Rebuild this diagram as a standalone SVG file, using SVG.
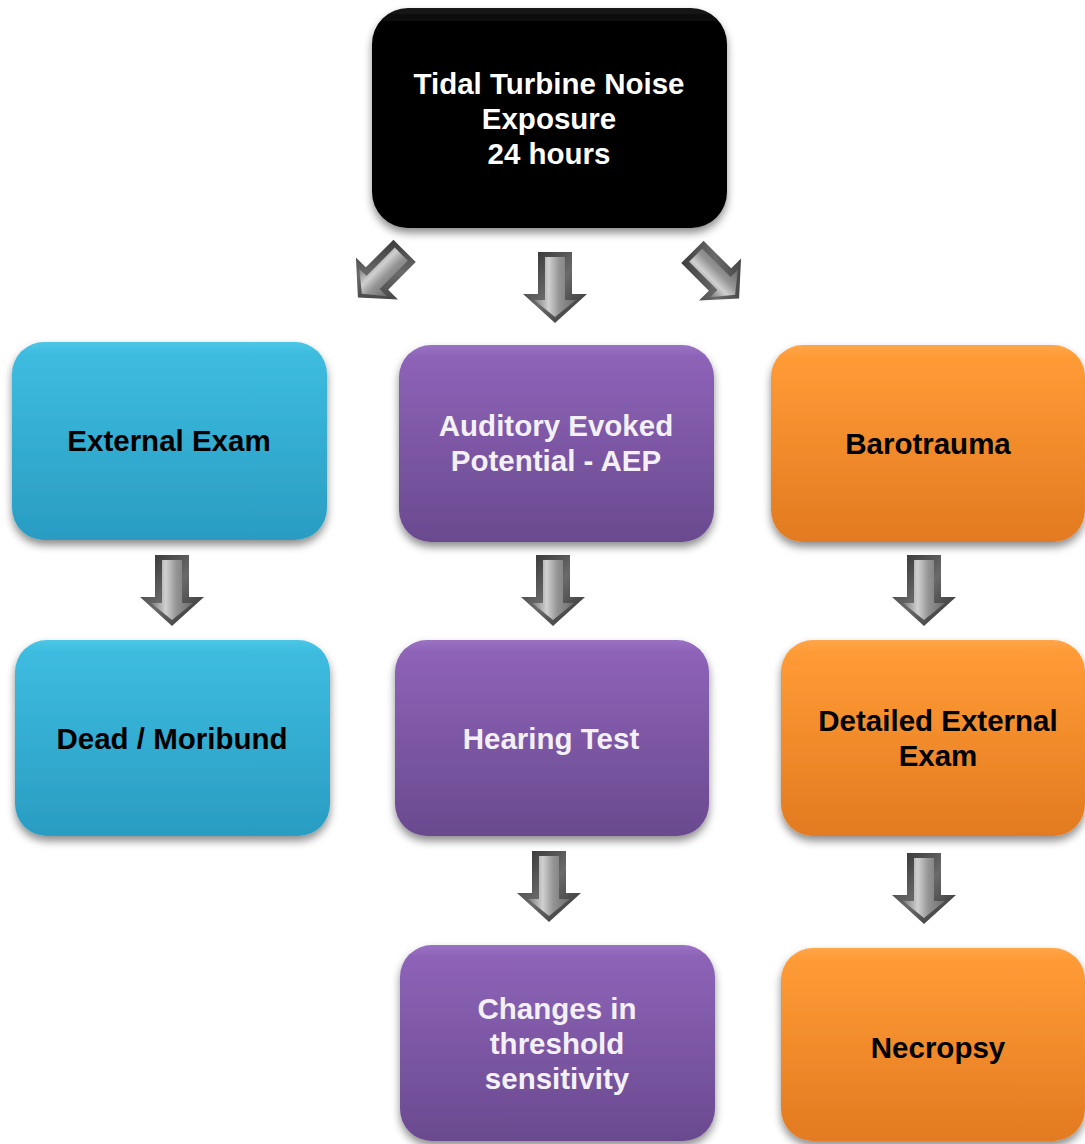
<svg xmlns="http://www.w3.org/2000/svg" width="1085" height="1144" viewBox="0 0 1085 1144">
<style>
  text { font-family: "Liberation Sans", Arial, sans-serif; font-weight: bold; font-size: 29.5px; text-anchor: middle; }
  .w { fill: #ffffff; }
  .wp { fill: #f4f0f8; }
  .k { fill: #000000; }
  .box { filter: url(#shadow); }
</style>
<defs>
  <filter id="shadow" x="-10%" y="-10%" width="120%" height="130%">
    <feDropShadow dx="0" dy="5" stdDeviation="4" flood-color="#000" flood-opacity="0.45"/>
  </filter>
  <linearGradient id="gBlack" x1="0" y1="0" x2="0" y2="1">
    <stop offset="0" stop-color="#1a1a1a"/>
    <stop offset="0.08" stop-color="#000"/>
    <stop offset="1" stop-color="#000"/>
  </linearGradient>
  <linearGradient id="gCyan" x1="0" y1="0" x2="0" y2="1">
    <stop offset="0" stop-color="#4cc6e6"/>
    <stop offset="0.06" stop-color="#3dbce0"/>
    <stop offset="1" stop-color="#2a9cc2"/>
  </linearGradient>
  <linearGradient id="gPurple" x1="0" y1="0" x2="0" y2="1">
    <stop offset="0" stop-color="#9a72c2"/>
    <stop offset="0.06" stop-color="#8d63b8"/>
    <stop offset="1" stop-color="#6a4a8f"/>
  </linearGradient>
  <linearGradient id="gOrange" x1="0" y1="0" x2="0" y2="1">
    <stop offset="0" stop-color="#ffa64a"/>
    <stop offset="0.06" stop-color="#ff9b36"/>
    <stop offset="1" stop-color="#e27a20"/>
  </linearGradient>
  <linearGradient id="aOuter" x1="0" y1="0" x2="1" y2="1">
    <stop offset="0" stop-color="#2e2e2e"/>
    <stop offset="0.5" stop-color="#6a6a6a"/>
    <stop offset="1" stop-color="#2e2e2e"/>
  </linearGradient>
  <linearGradient id="aInner" x1="0" y1="0" x2="1" y2="0">
    <stop offset="0" stop-color="#7a7a7a"/>
    <stop offset="0.35" stop-color="#d0d0d0"/>
    <stop offset="0.6" stop-color="#959595"/>
    <stop offset="1" stop-color="#6a6a6a"/>
  </linearGradient>
  <g id="arrow">
    <path d="M-17,0 L17,0 L17,42 L32,42 L0,71 L-32,42 L-17,42 Z" fill="url(#aOuter)"/>
    <path d="M-10,5 L10,5 L10,48 L21,48 L0,65 L-21,48 L-10,48 Z" fill="url(#aInner)"/>
  </g>
</defs>

<g id="connectors">
  <use href="#arrow" transform="translate(404.6,250.9) rotate(45) scale(0.93)"/>
  <use href="#arrow" transform="translate(555,252)"/>
  <use href="#arrow" transform="translate(692.4,251.9) rotate(-45) scale(0.93)"/>
  <use href="#arrow" transform="translate(172,555)"/>
  <use href="#arrow" transform="translate(553,555)"/>
  <use href="#arrow" transform="translate(924,555)"/>
  <use href="#arrow" transform="translate(549,851)"/>
  <use href="#arrow" transform="translate(924,853)"/>
</g>

<g id="node-exposure">
  <rect class="box" x="372" y="8" width="355" height="220" rx="36" fill="url(#gBlack)"/>
  <text class="w" x="549" y="94">Tidal Turbine Noise</text>
  <text class="w" x="549" y="129">Exposure</text>
  <text class="w" x="549" y="164">24 hours</text>
</g>

<g id="node-external-exam">
  <rect class="box" x="12" y="342" width="315" height="198" rx="32" fill="url(#gCyan)"/>
  <text class="k" x="169" y="451">External Exam</text>
</g>

<g id="node-aep">
  <rect class="box" x="399" y="345" width="315" height="197" rx="32" fill="url(#gPurple)"/>
  <text class="wp" x="556" y="436">Auditory Evoked</text>
  <text class="wp" x="556" y="471">Potential - AEP</text>
</g>

<g id="node-barotrauma">
  <rect class="box" x="771" y="345" width="314" height="197" rx="32" fill="url(#gOrange)"/>
  <text class="k" x="928" y="454">Barotrauma</text>
</g>

<g id="node-dead">
  <rect class="box" x="15" y="640" width="315" height="196" rx="32" fill="url(#gCyan)"/>
  <text class="k" x="172" y="749">Dead / Moribund</text>
</g>

<g id="node-hearing">
  <rect class="box" x="395" y="640" width="314" height="196" rx="32" fill="url(#gPurple)"/>
  <text class="wp" x="551" y="749">Hearing Test</text>
</g>

<g id="node-detailed">
  <rect class="box" x="781" y="640" width="304" height="196" rx="32" fill="url(#gOrange)"/>
  <text class="k" x="938" y="731">Detailed External</text>
  <text class="k" x="938" y="766">Exam</text>
</g>

<g id="node-changes">
  <rect class="box" x="400" y="945" width="315" height="196" rx="32" fill="url(#gPurple)"/>
  <text class="wp" x="557" y="1019">Changes in</text>
  <text class="wp" x="557" y="1054">threshold</text>
  <text class="wp" x="557" y="1089">sensitivity</text>
</g>

<g id="node-necropsy">
  <rect class="box" x="781" y="948" width="304" height="193" rx="32" fill="url(#gOrange)"/>
  <text class="k" x="938" y="1058">Necropsy</text>
</g>
</svg>
